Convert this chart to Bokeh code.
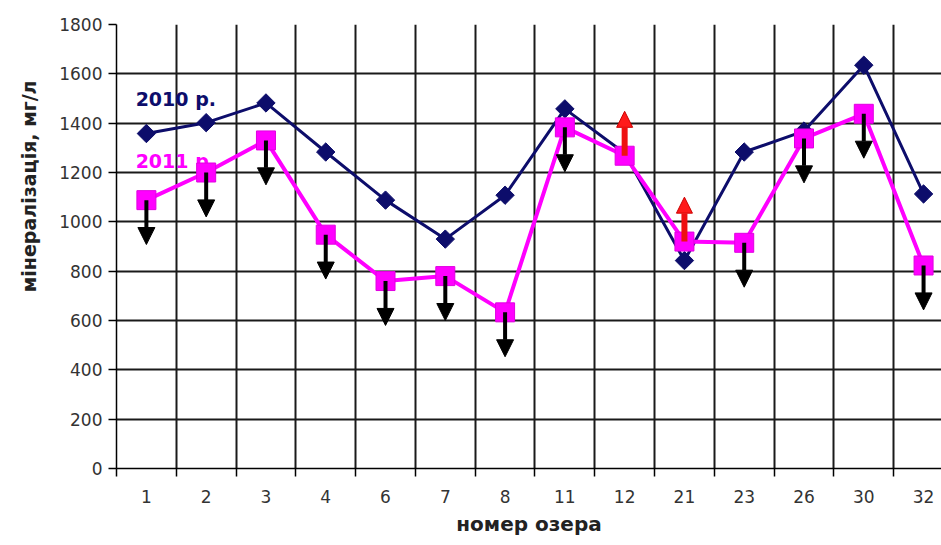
import math
import numpy as np
from bokeh.plotting import figure
from bokeh.models import (FixedTicker, Label, Title, Arrow, NormalHead,
                          ColumnDataSource, Range1d)
from bokeh.embed import file_html
from bokeh.resources import INLINE

# ---- data ----
lakes = ["1", "2", "3", "4", "6", "7", "8", "11", "12", "21", "23", "26", "30", "32"]
v2010 = [1358, 1402, 1482, 1283, 1088, 930, 1108, 1458, 1278, 843, 1283, 1368, 1635, 1113]
v2011 = [1088, 1200, 1330, 948, 760, 780, 633, 1383, 1268, 920, 915, 1338, 1438, 823]
trend = ["down", "down", "down", "down", "down", "down", "down", "down",
         "up", "up", "down", "down", "down", "down"]
y_ticks = [0, 200, 400, 600, 800, 1000, 1200, 1400, 1600, 1800]

FONT = "DejaVu Sans"
NAVY = "#0d0d6b"
MAGENTA = "#ff00ff"
ARROW_LEN = 180

n = len(lakes)
xs = np.arange(n) + 0.5
bounds = list(range(n + 1))

p = figure(width=941, height=545, output_backend="svg", toolbar_location=None,
           x_range=Range1d(0, n - 0.2), y_range=Range1d(y_ticks[0], y_ticks[-1]),
           min_border_left=116, min_border_right=0, min_border_top=24,
           min_border_bottom=77)
p.outline_line_color = None
p.background_fill_color = "white"
p.border_fill_color = "white"

# grid
p.xgrid.ticker = FixedTicker(ticks=bounds)
p.ygrid.ticker = FixedTicker(ticks=y_ticks)
for g in (p.xgrid, p.ygrid):
    g.grid_line_color = "#1a1a1a"
    g.grid_line_width = 2

# y axis
ya = p.yaxis[0]
ya.ticker = FixedTicker(ticks=y_ticks)
ya.major_tick_in = 0
ya.major_tick_out = 8
ya.major_tick_line_color = "black"
ya.major_tick_line_width = 1.5
ya.minor_tick_line_color = None
ya.axis_line_color = "black"
ya.axis_line_width = 1.5
ya.major_label_text_font = FONT
ya.major_label_text_font_size = "17px"
ya.major_label_text_color = "#333333"
ya.major_label_standoff = 6

# x axis
xa = p.xaxis[0]
xa.ticker = FixedTicker(ticks=list(xs), minor_ticks=bounds)
xa.major_label_overrides = {float(x): lab for x, lab in zip(xs, lakes)}
xa.major_tick_line_color = None
xa.major_tick_in = 0
xa.major_tick_out = 8
xa.minor_tick_in = 0
xa.minor_tick_out = 8
xa.minor_tick_line_color = "black"
xa.minor_tick_line_width = 1.5
xa.axis_line_color = "black"
xa.axis_line_width = 1.5
xa.major_label_text_font = FONT
xa.major_label_text_font_size = "17px"
xa.major_label_text_color = "#333333"
xa.major_label_standoff = 13
xa.axis_label = "номер озера"
xa.axis_label_text_font = FONT
xa.axis_label_text_font_size = "20px"
xa.axis_label_text_font_style = "bold"
xa.axis_label_text_color = "#222222"
xa.axis_label_standoff = 6

# y label as a side title (vertical text)
p.add_layout(Title(text="мінералізація, мг/л", align="right", offset=56,
                   standoff=30, vertical_align="top", text_font=FONT,
                   text_font_size="19px", text_font_style="bold",
                   text_color="#222222"), "left")

# series labels (under the lines)
p.add_layout(Label(x=0.32, y=1500, text="2010 р.", text_align="left",
                   text_baseline="middle", text_font=FONT, text_font_size="19px",
                   text_font_style="bold", text_color=NAVY, level="underlay"))
p.add_layout(Label(x=0.32, y=1245, text="2011 р.", text_align="left",
                   text_baseline="middle", text_font=FONT, text_font_size="19px",
                   text_font_style="bold", text_color=MAGENTA, level="underlay"))

src = ColumnDataSource(dict(x=xs, lake=lakes, v2010=v2010, v2011=v2011))

p.line("x", "v2010", source=src, line_color=NAVY, line_width=3)
p.scatter("x", "v2010", source=src, marker="square", angle=math.pi / 4, size=13,
          fill_color=NAVY, line_color=NAVY)
p.line("x", "v2011", source=src, line_color=MAGENTA, line_width=4)
p.scatter("x", "v2011", source=src, marker="square", size=19,
          fill_color=MAGENTA, line_color="#e000e0")

# arrows
down_x, down_y0, down_y1, up_x, up_y0, up_y1 = [], [], [], [], [], []
for x, v, t in zip(xs, v2011, trend):
    if t == "down":
        down_x.append(x); down_y0.append(v); down_y1.append(v - ARROW_LEN)
    else:
        up_x.append(x); up_y0.append(v); up_y1.append(v + ARROW_LEN)

down_src = ColumnDataSource(dict(x=down_x, y0=down_y0, y1=down_y1))
up_src = ColumnDataSource(dict(x=up_x, y0=up_y0, y1=up_y1))

p.add_layout(Arrow(end=NormalHead(size=17, fill_color="black", line_color="black"),
                   x_start="x", y_start="y0", x_end="x", y_end="y1",
                   source=down_src, line_color="black", line_width=4))
p.add_layout(Arrow(end=NormalHead(size=16, fill_color="#ff1a1a", line_color="#cc0000"),
                   x_start="x", y_start="y0", x_end="x", y_end="y1",
                   source=up_src, line_color="#ee1111", line_width=6))

open("out.html", "w").write(file_html(p, INLINE))
